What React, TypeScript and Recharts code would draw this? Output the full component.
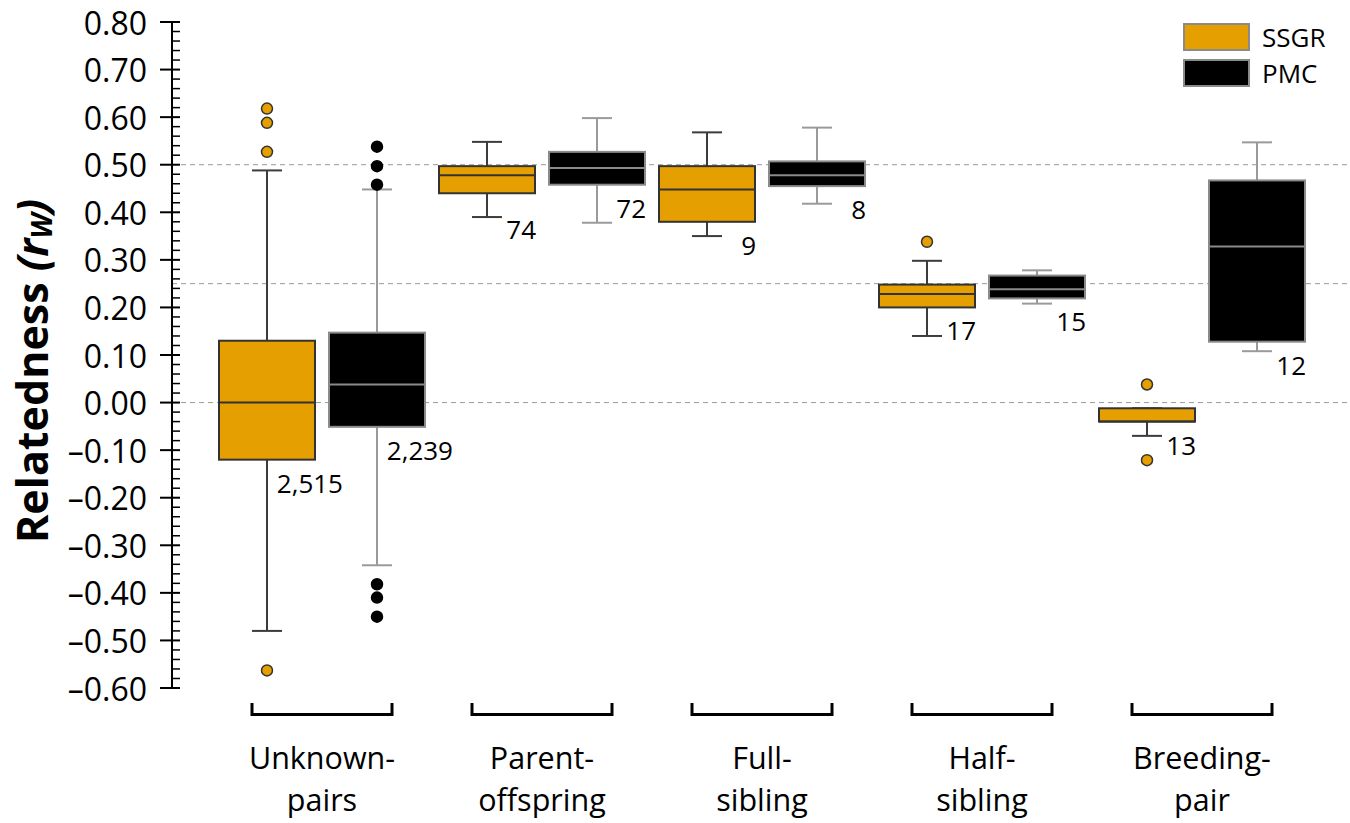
import React from 'react';
import { ComposedChart, Bar, XAxis, YAxis, CartesianGrid } from 'recharts';

// ---------- data ----------
const CATEGORIES = ['Unknown-pairs', 'Parent-offspring', 'Full-sibling', 'Half-sibling', 'Breeding-pair'];
const CATEGORY_LINES = [
  ['Unknown-', 'pairs'],
  ['Parent-', 'offspring'],
  ['Full-', 'sibling'],
  ['Half-', 'sibling'],
  ['Breeding-', 'pair'],
];

const SSGR_WHISKER_LOW = [-0.48, 0.39, 0.35, 0.14, -0.07];
const SSGR_Q1 = [-0.12, 0.44, 0.38, 0.2, -0.04];
const SSGR_MEDIAN = [0.0, 0.478, 0.448, 0.228, -0.04];
const SSGR_Q3 = [0.13, 0.497, 0.497, 0.248, -0.012];
const SSGR_WHISKER_HIGH = [0.488, 0.548, 0.568, 0.298, -0.012];
const SSGR_OUTLIERS = [[0.618, 0.588, 0.527, -0.563], [], [], [0.338], [0.038, -0.121]];
const SSGR_N = ['2,515', '74', '9', '17', '13'];

const PMC_WHISKER_LOW = [-0.342, 0.378, 0.418, 0.208, 0.108];
const PMC_Q1 = [-0.051, 0.458, 0.455, 0.219, 0.128];
const PMC_MEDIAN = [0.038, 0.493, 0.478, 0.238, 0.328];
const PMC_Q3 = [0.147, 0.527, 0.507, 0.267, 0.467];
const PMC_WHISKER_HIGH = [0.448, 0.598, 0.578, 0.278, 0.547];
const PMC_OUTLIERS = [[0.538, 0.497, 0.458, -0.382, -0.41, -0.45], [], [], [], []];
const PMC_N = ['2,239', '72', '8', '15', '12'];

const Y_MAJOR_TICKS = [-0.6, -0.5, -0.4, -0.3, -0.2, -0.1, 0, 0.1, 0.2, 0.3, 0.4, 0.5, 0.6, 0.7, 0.8];
const Y_MINOR_STEPS = 5; // minor ticks every 0.02
const REFERENCE_LEVELS = [0.5, 0.25, 0];

const SERIES = ['SSGR', 'PMC'];

// ---------- derived tables ----------
const Y_TICKS: number[] = [];
for (let k = 0; k < Y_MAJOR_TICKS.length; k++) {
  Y_TICKS.push(Y_MAJOR_TICKS[k]);
  if (k < Y_MAJOR_TICKS.length - 1) {
    const a = Y_MAJOR_TICKS[k];
    const b = Y_MAJOR_TICKS[k + 1];
    for (let s = 1; s < Y_MINOR_STEPS; s++) {
      Y_TICKS.push(Math.round((a + ((b - a) * s) / Y_MINOR_STEPS) * 1000) / 1000);
    }
  }
}

const STATS: Record<string, any> = {
  SSGR: { wl: SSGR_WHISKER_LOW, q1: SSGR_Q1, med: SSGR_MEDIAN, q3: SSGR_Q3, wh: SSGR_WHISKER_HIGH, out: SSGR_OUTLIERS, n: SSGR_N },
  PMC: { wl: PMC_WHISKER_LOW, q1: PMC_Q1, med: PMC_MEDIAN, q3: PMC_Q3, wh: PMC_WHISKER_HIGH, out: PMC_OUTLIERS, n: PMC_N },
};

const data = CATEGORIES.map((c, i) => ({
  category: c,
  idx: i,
  SSGR: [SSGR_WHISKER_LOW[i], SSGR_WHISKER_HIGH[i]],
  PMC: [PMC_WHISKER_LOW[i], PMC_WHISKER_HIGH[i]],
}));

// ---------- styles ----------
const FONT = "'Open Sans', 'Noto Sans', sans-serif";
const STYLE: Record<string, any> = {
  SSGR: { fill: '#E59F00', boxStroke: '#333333', whisker: '#3c3c3c', median: '#333333', dotFill: '#E59F00', dotStroke: '#333333' },
  PMC: { fill: '#000000', boxStroke: '#8a8a8a', whisker: '#9a9a9a', median: '#8a8a8a', dotFill: '#000000', dotStroke: '#000000' },
};

const makeBoxShape = (key: string) => (props: any) => {
  const { x, y, width, height, payload } = props;
  const i = payload && payload.idx !== undefined ? payload.idx : props.index;
  const st = STATS[key];
  const sty = STYLE[key];
  const lo = st.wl[i];
  const hi = st.wh[i];
  const top = Math.min(y, y + height);
  const bottom = Math.max(y, y + height);
  const px = (v: number) => bottom - ((v - lo) / (hi - lo)) * (bottom - top);
  const cx = x + width / 2;
  const capHalf = 15;
  const yq1 = px(st.q1[i]);
  const yq3 = px(st.q3[i]);
  const ymed = px(st.med[i]);
  const label = st.n[i];
  const labelX = x + width + (label.length > 3 ? 28 : 1);
  const labelY = yq1 + (key === 'SSGR' && i === 1 ? 36 : 23);
  return (
    <g>
      <line x1={cx} x2={cx} y1={px(hi)} y2={px(lo)} stroke={sty.whisker} strokeWidth={2} />
      <line x1={cx - capHalf} x2={cx + capHalf} y1={px(hi)} y2={px(hi)} stroke={sty.whisker} strokeWidth={2} />
      <line x1={cx - capHalf} x2={cx + capHalf} y1={px(lo)} y2={px(lo)} stroke={sty.whisker} strokeWidth={2} />
      <rect x={x} y={yq3} width={width} height={yq1 - yq3} fill={sty.fill} stroke={sty.boxStroke} strokeWidth={2} />
      <line x1={x} x2={x + width} y1={ymed} y2={ymed} stroke={sty.median} strokeWidth={2} />
      {st.out[i].map((v: number, k: number) => (
        <circle key={k} cx={cx} cy={px(v)} r={5.5} fill={sty.dotFill} stroke={sty.dotStroke} strokeWidth={1.5} />
      ))}
      <text x={labelX} y={labelY} textAnchor="end" dominantBaseline="central" fontSize={26} fontFamily={FONT} fill="#000">
        {label}
      </text>
    </g>
  );
};

const fmt = (v: number) => {
  const s = Math.abs(v).toFixed(2);
  return v < -1e-9 ? '\u2013' + s : s;
};

const YTick = (props: any) => {
  const { x, y, payload } = props;
  const v = payload.value;
  const major = Math.abs(v * 10 - Math.round(v * 10)) < 1e-6;
  if (major) {
    return (
      <g>
        <line x1={x - 12} x2={x + 8} y1={y} y2={y} stroke="#000" strokeWidth={2} />
        <text x={x - 25} y={y} textAnchor="end" dominantBaseline="central" fontSize={32} fontFamily={FONT} fill="#000">
          {fmt(v)}
        </text>
      </g>
    );
  }
  return <line x1={x} x2={x + 8} y1={y} y2={y} stroke="#000" strokeWidth={1.5} />;
};

const XTick = (props: any) => {
  const { x, y, payload } = props;
  const i = CATEGORIES.indexOf(payload.value);
  const lines = CATEGORY_LINES[i] || [payload.value, ''];
  return (
    <g>
      <path d={`M${x - 70},${y + 15} V${y + 26.5} H${x + 70} V${y + 15}`} fill="none" stroke="#000" strokeWidth={3} />
      <text x={x} y={y + 81} textAnchor="middle" fontSize={30.5} fontFamily={FONT} fill="#000">
        <tspan x={x}>{lines[0]}</tspan>
        <tspan x={x} dy={42}>{lines[1]}</tspan>
      </text>
    </g>
  );
};

const YLabel = (props: any) => {
  const vb = props.viewBox || { x: 0, y: 22, width: 172, height: 666 };
  const cx = vb.x + 31;
  const cy = vb.y + vb.height / 2 + 16;
  return (
    <text
      x={cx}
      y={cy}
      transform={`rotate(-90, ${cx}, ${cy})`}
      textAnchor="middle"
      dominantBaseline="central"
      fontSize={43}
      fontWeight="bold"
      fontFamily={FONT}
      fill="#000"
    >
      <tspan>Relatedness </tspan>
      <tspan fontStyle="italic">(r</tspan>
      <tspan fontStyle="italic" fontSize={28} dy={10}>W</tspan>
      <tspan fontStyle="italic" dy={-10}>)</tspan>
    </text>
  );
};

const Legend = () => (
  <svg
    width={170}
    height={80}
    style={{ position: 'absolute', left: 1180, top: 15, overflow: 'visible' }}
  >
    {SERIES.map((s, k) => (
      <rect key={s} x={4} y={9 + k * 36} width={65} height={26} fill={STYLE[s].fill} stroke="#8a8a8a" strokeWidth={2} />
    ))}
    <text x={82} y={22} dominantBaseline="central" fontSize={26} fontFamily={FONT} fill="#000">
      {SERIES.map((s, k) => (
        <tspan key={s} x={82} dy={k === 0 ? 0 : 36}>
          {s}
        </tspan>
      ))}
    </text>
  </svg>
);

export default function App() {
  return (
    <div style={{ position: 'absolute', left: 0, top: 0, width: 1350, height: 823, background: '#fff' }}>
      <ComposedChart
        width={1350}
        height={823}
        data={data}
        margin={{ top: 22, right: 0, bottom: 0, left: 0 }}
        barGap={14}
        style={{ fontFamily: FONT }}
      >
        <CartesianGrid
          vertical={false}
          horizontalValues={REFERENCE_LEVELS}
          stroke="#9a9a9a"
          strokeWidth={1}
          strokeDasharray="5 4"
        />
        <XAxis
          dataKey="category"
          height={135}
          padding={{ left: 40, right: 38 }}
          tickLine={false}
          axisLine={false}
          tickSize={0}
          tickMargin={0}
          interval={0}
          tick={<XTick />}
        />
        <YAxis
          type="number"
          domain={[-0.6, 0.8]}
          ticks={Y_TICKS}
          allowDataOverflow
          width={172}
          interval={0}
          tickSize={0}
          tickMargin={0}
          tickLine={false}
          axisLine={{ stroke: '#000', strokeWidth: 2 }}
          tick={<YTick />}
          label={<YLabel />}
        />
        {SERIES.map((s) => (
          <Bar key={s} dataKey={s} barSize={96} isAnimationActive={false} shape={makeBoxShape(s)} />
        ))}
      </ComposedChart>
      <Legend />
    </div>
  );
}
